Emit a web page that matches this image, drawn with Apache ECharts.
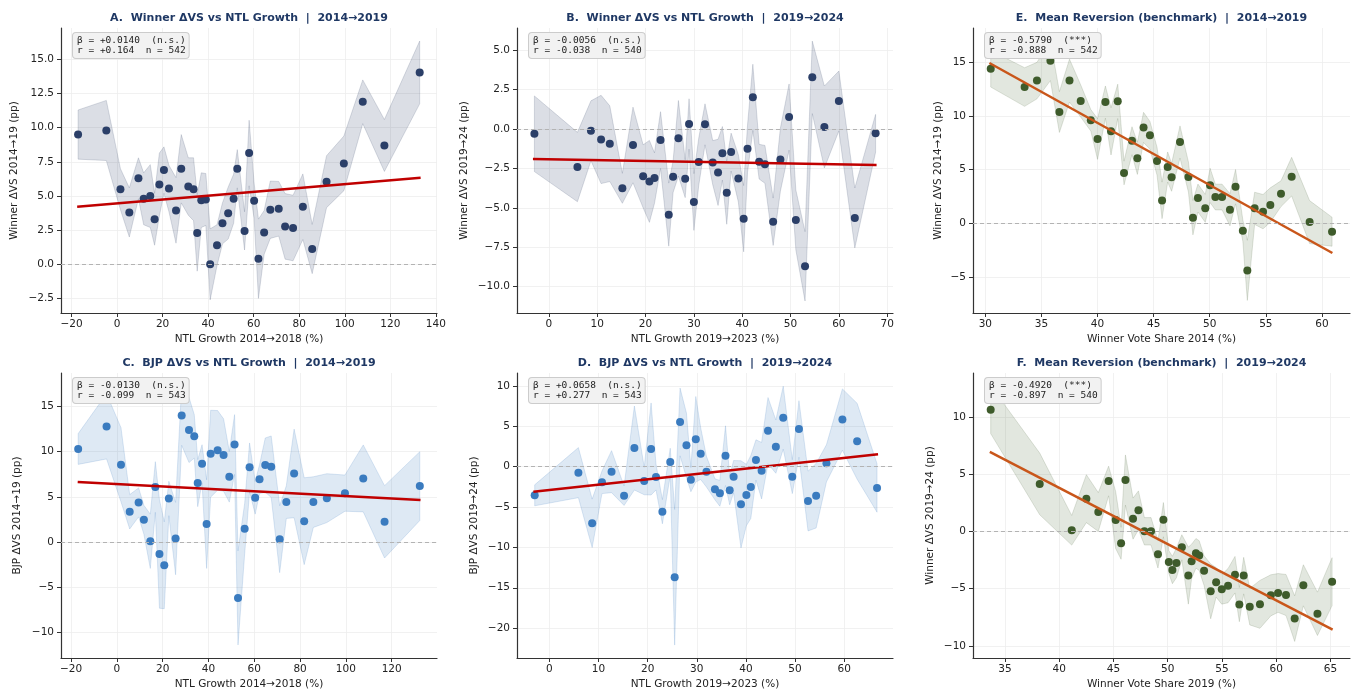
<!DOCTYPE html>
<html>
<head>
<meta charset="utf-8">
<title>NTL growth vs vote share change</title>
<script src="https://cdn.jsdelivr.net/npm/echarts@6/dist/echarts.min.js"></script>
<style>
  html, body { margin: 0; padding: 0; background: #fff; }
  #chart { width: 1354px; height: 693px; }
</style>
</head>
<body>
<div id="chart"></div>
<script>
// ---- data (binned means, CI half widths, fit line ends) ----
// A: winner dVS vs NTL growth 2014-2019
var xA = [-17.1, -4.7, 1.5, 5.4, 9.4, 11.7, 14.6, 16.5, 18.6, 20.6, 22.8, 25.9, 28.2, 31.3, 33.6, 35.2, 37.0, 39.0, 40.9, 43.9,
  46.3, 48.8, 51.2, 52.8, 56.0, 58.0, 60.2, 62.1, 64.6, 67.3, 71.0, 73.8, 77.3, 81.6, 85.7, 92.0, 99.6, 107.9, 117.4, 132.9];
var yA = [9.5, 9.8, 5.5, 3.8, 6.3, 4.8, 5.0, 3.3, 5.85, 6.9, 5.55, 3.95, 7.0, 5.7, 5.5, 2.3, 4.7, 4.75, 0.0, 1.4,
  3.0, 3.75, 4.8, 7.0, 2.45, 8.15, 4.66, 0.41, 2.34, 4.0, 4.07, 2.78, 2.66, 4.22, 1.12, 6.05, 7.39, 11.9, 8.7, 14.05];
var ciA = [1.8, 2.2, 1.5, 1.8, 1.5, 1.9, 2.3, 1.9, 2.3, 1.7, 1.7, 2.4, 2.5, 2.1, 2.3, 2.8, 2.0, 1.9, 2.6, 1.5,
  1.5, 1.9, 1.8, 1.4, 1.4, 2.4, 1.3, 2.9, 1.6, 2.1, 2.0, 2.4, 2.4, 2.4, 1.8, 1.9, 2.0, 1.6, 1.9, 2.3];
var fitA = [[-17.5, 4.22], [133.3, 6.34]];

// B: winner dVS vs NTL growth 2019-2024
var xB = [-3.0, 5.9, 8.7, 10.8, 12.6, 15.2, 17.4, 19.5, 20.8, 21.85, 23.1, 24.8, 25.7, 26.8, 28.2, 29.0, 30.0, 31.0, 32.3, 33.9,
  35.0, 35.9, 36.8, 37.7, 39.2, 40.3, 41.1, 42.2, 43.5, 44.7, 46.4, 47.9, 49.7, 51.1, 53.0, 54.5, 57.0, 60.0, 63.3, 67.6];
var yB = [-0.30, -2.41, -0.11, -0.66, -0.93, -3.76, -1.01, -3.0, -3.32, -3.11, -0.70, -5.43, -3.02, -0.59, -3.15, 0.32, -4.63, -2.09, 0.30, -2.13,
  -2.75, -1.54, -4.04, -1.46, -3.13, -5.69, -1.25, 2.01, -2.07, -2.24, -5.88, -1.94, 0.76, -5.77, -8.71, 3.28, 0.13, 1.78, -5.64, -0.27];
var ciB = [2.4, 2.2, 1.9, 2.8, 2.4, 0.95, 2.4, 2.0, 2.6, 1.6, 1.8, 2.0, 1.0, 2.4, 1.2, 1.6, 1.8, 1.5, 1.3, 1.4,
  2.1, 1.7, 2.0, 1.2, 1.5, 2.1, 1.5, 2.1, 1.1, 1.2, 1.5, 2.0, 2.1, 1.9, 2.2, 2.3, 2.6, 1.9, 1.9, 1.2];
var fitB = [[-3.3, -1.9], [67.8, -2.28]];

// E: mean reversion 2014-2019
var xE = [30.48, 33.5, 34.6, 35.8, 36.6, 37.5, 38.5, 39.4, 40.0, 40.7, 41.2, 41.8, 42.36, 43.07, 43.55, 44.1, 44.67, 45.3, 45.75, 46.25,
  46.6, 47.35, 48.1, 48.5, 48.95, 49.6, 50.03, 50.5, 51.1, 51.8, 52.3, 52.95, 53.35, 54.0, 54.75, 55.4, 56.35, 57.3, 58.9, 60.9];
var yE = [14.4, 12.7, 13.3, 15.15, 10.37, 13.3, 11.4, 9.6, 7.86, 11.3, 8.57, 11.37, 4.69, 7.7, 6.06, 8.94, 8.2, 5.8, 2.14, 5.25,
  4.29, 7.58, 4.32, 0.53, 2.36, 1.4, 3.54, 2.45, 2.45, 1.27, 3.42, -0.68, -4.38, 1.4, 1.09, 1.71, 2.76, 4.35, 0.12, -0.78];
var ciE = [1.7, 1.8, 1.7, 1.85, 1.9, 2.0, 1.5, 1.0, 1.9, 1.5, 2.2, 1.6, 1.1, 1.3, 1.5, 1.4, 1.3, 1.3, 1.7, 1.4,
  1.3, 1.5, 1.4, 1.6, 1.3, 1.3, 1.6, 1.2, 1.2, 1.5, 1.6, 1.0, 2.8, 1.5, 1.6, 1.6, 1.2, 1.8, 2.0, 1.35];
var fitE = [[30.36, 14.94], [60.93, -2.76]];

// C: BJP dVS vs NTL growth 2014-2019
var xC = [-16.9, -4.5, 1.8, 5.6, 9.5, 11.8, 14.6, 16.8, 18.6, 20.7, 22.7, 25.65, 28.3, 31.5, 33.8, 35.3, 37.2, 39.2, 40.95, 44.0,
  46.6, 49.1, 51.4, 52.9, 55.8, 57.95, 60.4, 62.3, 64.8, 67.4, 71.1, 74.0, 77.4, 81.8, 85.8, 91.7, 99.6, 107.6, 116.9, 132.3];
var yC = [10.3, 12.8, 8.56, 3.36, 4.4, 2.47, 0.1, 6.1, -1.3, -2.55, 4.83, 0.4, 14.0, 12.4, 11.7, 6.53, 8.67, 2.0, 9.78, 10.15,
  9.63, 7.23, 10.8, -6.16, 1.48, 8.27, 4.9, 6.97, 8.52, 8.34, 0.33, 4.43, 7.6, 2.32, 4.43, 4.87, 5.42, 7.05, 2.25, 6.2];
var ciC = [1.7, 3.6, 4.1, 1.9, 1.6, 1.6, 3.0, 2.8, 6.0, 4.8, 1.9, 4.0, 3.3, 3.6, 2.4, 2.6, 2.1, 4.9, 4.8, 4.4,
  4.0, 2.8, 3.3, 5.2, 2.8, 2.7, 1.8, 1.6, 3.0, 3.4, 3.7, 1.8, 4.9, 4.8, 2.8, 2.7, 2.0, 3.7, 4.0, 3.8];
var fitC = [[-17.1, 6.64], [132.6, 4.65]];

// D: BJP dVS vs NTL growth 2019-2024
var xD = [-3.0, 5.9, 8.7, 10.7, 12.65, 15.2, 17.3, 19.3, 20.7, 21.7, 23.0, 24.6, 25.5, 26.6, 27.9, 28.8, 29.8, 30.8, 31.97, 33.7,
  34.7, 35.85, 36.7, 37.5, 39.0, 40.1, 41.0, 42.05, 43.2, 44.5, 46.1, 47.6, 49.45, 50.8, 52.65, 54.3, 56.4, 59.65, 62.65, 66.7];
var yD = [-3.55, -0.74, -7.02, -1.94, -0.62, -3.6, 2.31, -1.78, 2.19, -1.28, -5.58, 0.58, -13.7, 5.54, 2.64, -1.61, 3.39, 1.61, -0.62, -2.81,
  -3.3, 1.36, -2.93, -1.24, -4.67, -3.51, -2.52, 0.83, -0.5, 4.46, 2.48, 6.07, -1.24, 4.67, -4.26, -3.6, 0.41, 5.83, 3.14, -2.64];
var ciD = [1.3, 3.1, 3.0, 1.4, 2.6, 1.2, 5.2, 1.7, 5.7, 1.6, 1.5, 1.7, 8.4, 4.2, 4.0, 1.5, 5.3, 3.2, 1.9, 1.3,
  1.6, 3.7, 1.8, 2.0, 5.4, 3.8, 3.9, 2.5, 3.5, 4.1, 3.3, 3.9, 2.1, 3.5, 3.7, 4.0, 2.3, 3.8, 4.7, 3.0];
var fitD = [[-3.27, -3.1], [66.9, 1.53]];

// F: mean reversion 2019-2024
var xF = [33.68, 38.2, 41.15, 42.5, 43.6, 44.55, 45.2, 45.7, 46.1, 46.8, 47.3, 47.85, 48.46, 49.1, 49.6, 50.1, 50.43, 50.8, 51.3, 51.9,
  52.2, 52.6, 52.9, 53.35, 53.96, 54.46, 54.98, 55.56, 56.2, 56.6, 57.0, 57.56, 58.5, 59.5, 60.17, 60.9, 61.7, 62.5, 63.8, 65.15];
var yF = [10.69, 4.18, 0.12, 2.89, 1.72, 4.44, 1.02, -1.02, 4.52, 1.14, 1.87, 0.03, 0.03, -1.99, 1.05, -2.66, -3.36, -2.74, -1.37, -3.85,
  -2.6, -1.9, -2.1, -3.42, -5.23, -4.44, -5.05, -4.73, -3.77, -6.39, -3.85, -6.57, -6.37, -5.58, -5.37, -5.55, -7.62, -4.7, -7.2, -4.38];
var ciF = [2.1, 2.7, 1.3, 2.1, 1.7, 1.3, 2.5, 1.4, 2.2, 1.8, 1.7, 1.2, 1.2, 1.2, 1.5, 1.0, 1.2, 1.3, 1.1, 2.5,
  1.5, 1.3, 1.3, 1.3, 2.4, 1.3, 1.3, 1.5, 1.6, 1.5, 1.6, 1.6, 2.1, 1.8, 1.7, 1.8, 2.0, 1.8, 1.9, 2.1];
var fitF = [[33.6, 6.98], [65.2, -8.58]];

// tick values
var ticksNtl14 = [-20, 0, 20, 40, 60, 80, 100, 120, 140];
var ticksNtl19 = [0, 10, 20, 30, 40, 50, 60, 70];
var ticksVs14 = [30, 35, 40, 45, 50, 55, 60];
var ticksVs19 = [35, 40, 45, 50, 55, 60, 65];
var yTicksA = [-2.5, 0, 2.5, 5, 7.5, 10, 12.5, 15];
var yTicksB = [-10, -7.5, -5, -2.5, 0, 2.5, 5];
var yTicksE = [-5, 0, 5, 10, 15];
var yTicksC = [-10, -5, 0, 5, 10, 15];
var yTicksD = [-20, -15, -10, -5, 0, 5, 10];
var yTicksF = [-10, -5, 0, 5, 10];

var titles = [
  'A.  Winner ΔVS vs NTL Growth  |  2014→2019',
  'B.  Winner ΔVS vs NTL Growth  |  2019→2024',
  'E.  Mean Reversion (benchmark)  |  2014→2019',
  'C.  BJP ΔVS vs NTL Growth  |  2014→2019',
  'D.  BJP ΔVS vs NTL Growth  |  2019→2024',
  'F.  Mean Reversion (benchmark)  |  2019→2024'
];
var stats = [
  'β = +0.0140  (n.s.)\nr = +0.164  n = 542',
  'β = -0.0056  (n.s.)\nr = -0.038  n = 540',
  'β = -0.5790  (***)\nr = -0.888  n = 542',
  'β = -0.0130  (n.s.)\nr = -0.099  n = 543',
  'β = +0.0658  (n.s.)\nr = +0.277  n = 543',
  'β = -0.4920  (***)\nr = -0.897  n = 540'
];

// ---- layout ----
var grids = [
  { left: 61, top: 28, width: 376, height: 285 },
  { left: 517, top: 28, width: 376, height: 285 },
  { left: 973, top: 28, width: 377, height: 285 },
  { left: 61, top: 373, width: 376, height: 285 },
  { left: 517, top: 373, width: 376, height: 285 },
  { left: 973, top: 373, width: 377, height: 285 }
];

var navy = '#2b3f68', blue = '#3a7bbf', green = '#3e5b2b';
var red = '#c00000', orange = '#c9561a';
var txt = '#222';

function fmt(dec) {
  return function (v) {
    return (dec ? v.toFixed(1) : String(Math.round(v))).replace('-', '\u2212');
  };
}

function xAxis(i, min, max, ticks, name) {
  return {
    type: 'value', gridIndex: i, min: min, max: max,
    name: name, nameLocation: 'middle', nameGap: 21,
    nameTextStyle: { color: txt, fontSize: 10.5, fontFamily: 'DejaVu Sans' },
    axisLine: { onZero: false, lineStyle: { color: '#333', width: 1.2 } },
    axisTick: { show: true, length: 4, customValues: ticks, lineStyle: { color: '#333' } },
    axisLabel: { customValues: ticks, margin: 6, color: txt, fontSize: 10.5, fontFamily: 'DejaVu Sans', formatter: fmt(false) },
    splitLine: { show: true, lineStyle: { color: '#eeeeee', width: 0.8 } }
  };
}

function yAxis(i, min, max, ticks, name, gap, dec) {
  return {
    type: 'value', gridIndex: i, min: min, max: max,
    name: name, nameLocation: 'middle', nameGap: gap, nameRotate: 90,
    nameTextStyle: { color: txt, fontSize: 10.5, fontFamily: 'DejaVu Sans' },
    axisLine: { show: true, onZero: false, lineStyle: { color: '#333', width: 1.2 } },
    axisTick: { show: true, length: 4, customValues: ticks, lineStyle: { color: '#333' } },
    axisLabel: { customValues: ticks, margin: 7, color: txt, fontSize: 10.5, fontFamily: 'DejaVu Sans', formatter: fmt(dec) },
    splitLine: { show: true, lineStyle: { color: '#eeeeee', width: 0.8 } }
  };
}

// confidence band as one polygon: upper edge left->right, lower edge back
function band(i, xs, ys, ci, fill, edge) {
  return {
    type: 'custom', xAxisIndex: i, yAxisIndex: i, silent: true, z: 1,
    data: [[xs[0], ys[0]]],
    renderItem: function (params, api) {
      var up = [], lo = [];
      for (var k = 0; k < xs.length; k++) {
        up.push(api.coord([xs[k], ys[k] + ci[k]]));
        lo.unshift(api.coord([xs[k], ys[k] - ci[k]]));
      }
      return {
        type: 'polygon',
        shape: { points: up.concat(lo) },
        style: { fill: fill, stroke: edge, lineWidth: 0.8 }
      };
    }
  };
}

function dots(i, xs, ys, color) {
  var d = [];
  for (var k = 0; k < xs.length; k++) d.push([xs[k], ys[k]]);
  return {
    type: 'scatter', xAxisIndex: i, yAxisIndex: i, z: 3,
    data: d, symbolSize: 8, itemStyle: { color: color, opacity: 1 },
    markLine: {
      silent: true, symbol: 'none', label: { show: false },
      lineStyle: { color: '#b3b3b3', type: [4, 3], width: 1 },
      data: [{ yAxis: 0 }]
    }
  };
}

function fit(i, pts, color) {
  return {
    type: 'line', xAxisIndex: i, yAxisIndex: i, z: 4,
    data: pts, showSymbol: false, symbol: 'none',
    lineStyle: { color: color, width: 2.5 }
  };
}

var graphic = [];
for (var g = 0; g < 6; g++) {
  var gr = grids[g];
  graphic.push({
    type: 'text', x: gr.left + gr.width / 2, y: gr.top - 10,
    style: { text: titles[g], align: 'center', verticalAlign: 'middle',
      fontSize: 11, fontWeight: 'bold', fontFamily: 'DejaVu Sans', fill: '#1f3864' }
  });
  graphic.push({
    type: 'text', x: gr.left + 12, y: gr.top + 5, z: 10,
    style: { text: stats[g], align: 'left', verticalAlign: 'top',
      fontSize: 9.5, fontFamily: 'DejaVu Sans Mono', fill: '#222', lineHeight: 10,
      backgroundColor: '#f2f2f2', borderColor: '#cccccc', borderWidth: 1,
      borderRadius: 3, padding: [3, 3, 2, 4] }
  });
}

var chart = echarts.init(document.getElementById('chart'));
chart.setOption({
  animation: false,
  backgroundColor: '#fff',
  grid: grids,
  xAxis: [
    xAxis(0, -24.6, 140.5, ticksNtl14, 'NTL Growth 2014→2018 (%)'),
    xAxis(1, -6.6, 71.2, ticksNtl19, 'NTL Growth 2019→2023 (%)'),
    xAxis(2, 28.9, 62.5, ticksVs14, 'Winner Vote Share 2014 (%)'),
    xAxis(3, -24.4, 139.8, ticksNtl14, 'NTL Growth 2014→2018 (%)'),
    xAxis(4, -6.6, 69.95, ticksNtl19, 'NTL Growth 2019→2023 (%)'),
    xAxis(5, 32.05, 66.8, ticksVs19, 'Winner Vote Share 2019 (%)')
  ],
  yAxis: [
    yAxis(0, -3.56, 17.3, yTicksA, 'Winner ΔVS 2014→19 (pp)', 41, true),
    yAxis(1, -11.67, 6.41, yTicksB, 'Winner ΔVS 2019→24 (pp)', 47, true),
    yAxis(2, -8.35, 18.2, yTicksE, 'Winner ΔVS 2014→19 (pp)', 29, false),
    yAxis(3, -12.8, 18.7, yTicksC, 'BJP ΔVS 2014→19 (pp)', 38, false),
    yAxis(4, -23.7, 11.6, yTicksD, 'BJP ΔVS 2019→24 (pp)', 37, false),
    yAxis(5, -11.07, 13.9, yTicksF, 'Winner ΔVS 2019→24 (pp)', 37, false)
  ],
  graphic: graphic,
  series: [
    band(0, xA, yA, ciA, 'rgba(44,62,100,0.17)', 'rgba(44,62,100,0.22)'),
    dots(0, xA, yA, navy),
    fit(0, fitA, red),
    band(1, xB, yB, ciB, 'rgba(44,62,100,0.17)', 'rgba(44,62,100,0.22)'),
    dots(1, xB, yB, navy),
    fit(1, fitB, red),
    band(2, xE, yE, ciE, 'rgba(62,91,43,0.15)', 'rgba(62,91,43,0.2)'),
    dots(2, xE, yE, green),
    fit(2, fitE, orange),
    band(3, xC, yC, ciC, 'rgba(58,123,191,0.17)', 'rgba(58,123,191,0.22)'),
    dots(3, xC, yC, blue),
    fit(3, fitC, red),
    band(4, xD, yD, ciD, 'rgba(58,123,191,0.17)', 'rgba(58,123,191,0.22)'),
    dots(4, xD, yD, blue),
    fit(4, fitD, red),
    band(5, xF, yF, ciF, 'rgba(62,91,43,0.15)', 'rgba(62,91,43,0.2)'),
    dots(5, xF, yF, green),
    fit(5, fitF, orange)
  ]
});
</script>
</body>
</html>
